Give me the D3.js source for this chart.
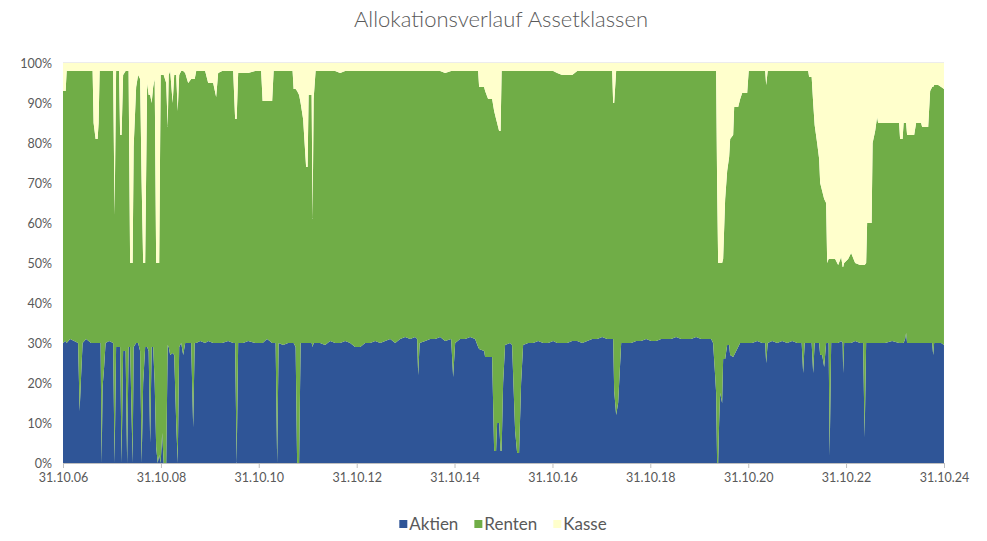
<!DOCTYPE html>
<html>
<head>
<meta charset="utf-8">
<script src="https://cdn.jsdelivr.net/npm/d3@7/dist/d3.min.js"></script>
<style>
  body { margin: 0; background: #fff; }
  svg text { font-family: Lato, "Open Sans", sans-serif; fill: #595959; }
</style>
</head>
<body>
<svg id="chart" width="987" height="541"></svg>
<script>
// dates as decimal years, shares in percent (Renten = rest up to 100)
const dates = [
  2006.830, 2006.884, 2006.905, 2006.976, 2007.058, 2007.139, 2007.170, 2007.201, 2007.231, 2007.303,
  2007.405, 2007.436, 2007.456, 2007.497, 2007.538, 2007.558, 2007.579, 2007.599, 2007.620, 2007.640,
  2007.671, 2007.701, 2007.773, 2007.855, 2007.885, 2007.916, 2007.977, 2007.998, 2008.028, 2008.059,
  2008.110, 2008.141, 2008.171, 2008.202, 2008.253, 2008.274, 2008.325, 2008.365, 2008.406, 2008.437,
  2008.468, 2008.509, 2008.549, 2008.580, 2008.611, 2008.641, 2008.672, 2008.703, 2008.733, 2008.764,
  2008.795, 2008.825, 2008.856, 2008.887, 2008.938, 2008.968, 2008.989, 2009.019, 2009.070, 2009.101,
  2009.142, 2009.173, 2009.203, 2009.244, 2009.285, 2009.326, 2009.387, 2009.448, 2009.489, 2009.520,
  2009.551, 2009.632, 2009.734, 2009.796, 2009.898, 2009.959, 2010.000, 2010.082, 2010.204, 2010.307,
  2010.347, 2010.378, 2010.409, 2010.511, 2010.613, 2010.756, 2010.879, 2010.909, 2011.001, 2011.104,
  2011.134, 2011.175, 2011.206, 2011.236, 2011.328, 2011.430, 2011.522, 2011.543, 2011.584, 2011.614,
  2011.655, 2011.686, 2011.737, 2011.798, 2011.829, 2011.849, 2011.911, 2011.931, 2011.952, 2011.992,
  2012.084, 2012.186, 2012.289, 2012.391, 2012.493, 2012.595, 2012.697, 2012.799, 2012.902, 2013.004,
  2013.106, 2013.208, 2013.310, 2013.412, 2013.515, 2013.617, 2013.719, 2013.821, 2013.923, 2014.025,
  2014.066, 2014.087, 2014.117, 2014.230, 2014.332, 2014.434, 2014.536, 2014.638, 2014.761, 2014.802,
  2014.843, 2014.945, 2015.047, 2015.149, 2015.251, 2015.313, 2015.333, 2015.435, 2015.456, 2015.517,
  2015.599, 2015.640, 2015.680, 2015.701, 2015.742, 2015.772, 2015.793, 2015.824, 2015.864, 2015.967,
  2016.007, 2016.069, 2016.110, 2016.150, 2016.191, 2016.232, 2016.334, 2016.437, 2016.539, 2016.641,
  2016.743, 2016.845, 2016.927, 2017.029, 2017.131, 2017.233, 2017.336, 2017.438, 2017.540, 2017.642,
  2017.744, 2017.846, 2017.949, 2018.051, 2018.071, 2018.092, 2018.132, 2018.173, 2018.235, 2018.337,
  2018.439, 2018.541, 2018.643, 2018.745, 2018.848, 2018.950, 2019.052, 2019.154, 2019.256, 2019.358,
  2019.461, 2019.563, 2019.665, 2019.767, 2019.869, 2019.971, 2020.074, 2020.114, 2020.155, 2020.176,
  2020.196, 2020.217, 2020.237, 2020.257, 2020.298, 2020.319, 2020.360, 2020.401, 2020.441, 2020.462,
  2020.523, 2020.544, 2020.625, 2020.666, 2020.707, 2020.809, 2020.840, 2020.911, 2021.014, 2021.116,
  2021.177, 2021.197, 2021.228, 2021.320, 2021.422, 2021.524, 2021.626, 2021.729, 2021.831, 2021.923,
  2021.953, 2021.984, 2022.056, 2022.076, 2022.127, 2022.158, 2022.188, 2022.239, 2022.280, 2022.301,
  2022.342, 2022.383, 2022.423, 2022.444, 2022.474, 2022.495, 2022.526, 2022.607, 2022.669, 2022.730,
  2022.761, 2022.771, 2022.791, 2022.873, 2022.934, 2023.016, 2023.118, 2023.179, 2023.210, 2023.241,
  2023.261, 2023.353, 2023.373, 2023.425, 2023.465, 2023.486, 2023.629, 2023.772, 2023.915, 2023.935,
  2023.986, 2024.007, 2024.038, 2024.058, 2024.078, 2024.222, 2024.262, 2024.365, 2024.385, 2024.508,
  2024.548, 2024.589, 2024.610, 2024.630, 2024.712, 2024.773, 2024.830
];

const aktien = [
  30, 30.5, 30, 31, 30.5, 30, 13, 22, 30, 31,
  30, 30, 30, 30, 30, 30, 30, 30, 0, 19,
  24, 30, 30.5, 30, 0, 29, 29, 29, 0, 28,
  28, 0, 29, 29, 0, 29, 30, 30, 28, 0,
  20, 29, 29, 28, 5, 29, 29, 20, 4, 0,
  2, 0, 7.5, 0, 0, 29.5, 29, 27, 27.5, 27,
  10, 0, 29, 30, 27, 30, 30, 30, 9, 30,
  30, 30.5, 30, 30.5, 30, 30, 30, 30, 30.5, 30,
  30, 0, 30, 30, 30.5, 30, 30, 30, 31, 30,
  30, 30, 0, 30, 29.5, 30, 30, 30, 29, 0,
  0, 30, 30, 30, 30, 30, 30, 29, 30, 30,
  30, 29.5, 30.5, 30, 30, 30.5, 30, 29, 29, 30,
  30, 30.5, 30, 30.5, 31, 30, 31, 31.5, 31, 31.5,
  31, 22, 30, 30.5, 31, 31, 31.5, 30.5, 31, 21.5,
  30, 31, 31, 31.5, 31, 29, 28.5, 28, 26.5, 26.5,
  26.5, 3, 3, 10, 10, 3, 3, 20, 29.5, 30,
  29.5, 8, 2.5, 2.5, 20, 29.5, 30, 30, 30.5, 30,
  30, 30.5, 30, 30, 30, 30.5, 30.5, 30, 30.5, 31,
  31, 31.5, 31, 31, 31, 18, 12, 15, 30, 30,
  30, 30.5, 30.5, 31, 30.5, 30.5, 31, 31, 31, 31.5,
  31, 31, 31, 31.5, 31, 31, 31, 30, 22, 17.5,
  0, 0, 10, 17.5, 15, 26, 26, 29.5, 29.5, 27,
  26.5, 27, 29, 30, 30, 30, 30, 30, 30.5, 30,
  30, 25, 30, 30.5, 30, 30.5, 30, 30.5, 30, 30,
  22.5, 30, 30, 30, 30, 22.5, 30, 30, 30, 27,
  27, 24, 30, 30, 30, 2, 30, 30, 30, 30.5,
  30, 22.5, 30, 30, 30, 30.5, 30, 30, 6.5, 30,
  30, 30, 30, 30, 30, 30, 30, 30.5, 30, 30,
  30, 30, 31, 32.5, 30, 30, 30, 30, 30, 30,
  30, 30, 27, 30, 30, 30, 29.5
];

const kasse = [
  7, 7, 2, 2, 2, 2, 2, 2, 2, 2,
  2, 2, 15, 19, 19, 15, 2, 2, 2, 2,
  2, 2, 2, 2, 38, 2, 2, 18, 18, 3,
  2, 2, 2, 50, 50, 21, 6, 3, 4, 30,
  50, 50, 5, 8, 8, 10, 6, 4, 50, 50,
  50, 3, 3, 3, 5, 16, 3, 2, 10, 3,
  3, 12, 3, 2, 2, 2.5, 5, 4, 4, 4,
  2, 2, 2, 5, 5, 8.5, 2.5, 2, 2, 2,
  14, 14, 2.5, 2.5, 2.5, 2, 2, 9.5, 9.5, 9.5,
  2, 2, 2, 2, 2, 2, 2, 6.5, 6.5, 7,
  8, 10, 14, 26, 26, 8, 8, 39, 9, 2,
  2, 2, 2, 2, 2.5, 2, 2, 2, 2, 2,
  2, 2, 2, 2, 2, 2, 2, 2, 2, 2,
  2, 2, 2, 2, 2, 2, 2, 2.5, 2, 2,
  2, 2, 2, 2, 2, 2, 6, 6, 7, 9,
  9, 12, 14, 15, 17, 17, 2, 2, 2, 2,
  2, 2, 2, 2, 2, 2, 2, 2, 2, 2,
  2, 2, 2.5, 3, 3, 3, 2, 2, 2, 2,
  2, 2, 2, 2, 10, 10, 2, 2, 2, 2,
  2, 2, 2, 2, 2, 2, 2, 2, 2, 2,
  2, 2, 2, 2, 2, 2, 2, 2, 2, 2,
  30, 50, 50, 50, 50, 49, 34, 27, 23.5, 19,
  18, 11, 11, 9, 7.5, 7.5, 2, 2, 2, 2,
  2, 5.5, 2, 2, 2, 2, 2, 2, 2, 2,
  2, 2, 2, 3.5, 3.5, 10, 15.5, 20, 24, 30,
  32, 34, 35, 50, 49, 49, 49, 49, 50.5, 48.5,
  51, 51, 50, 49, 47.5, 50, 50.5, 50.5, 50.5, 50,
  40, 40, 20, 17, 13.5, 15, 15, 15, 15, 19,
  19, 15, 15, 15, 18, 18, 15, 15, 16, 16,
  7, 6, 6, 5.5, 5.5, 6, 6.5
];

const keys = ["Aktien", "Renten", "Kasse"];
const colors = ["#2F5597", "#70AD47", "#FFFFCC"];
const yTicks = [0, 0.1, 0.2, 0.3, 0.4, 0.5, 0.6, 0.7, 0.8, 0.9, 1];
const xTickYears = [2006, 2008, 2010, 2012, 2014, 2016, 2018, 2020, 2022, 2024];

function toDate(v) {
  const yr = Math.floor(v);
  const a = new Date(yr, 0, 1), b = new Date(yr + 1, 0, 1);
  return new Date(+a + (v - yr) * (b - a));
}

const table = dates.map((d, i) => ({
  date: toDate(d),
  Aktien: aktien[i] / 100,
  Renten: (100 - aktien[i] - kasse[i]) / 100,
  Kasse: kasse[i] / 100
}));

const svg = d3.select("#chart");
const plot = { left: 63, right: 944, top: 63, bottom: 463 };

const x = d3.scaleTime()
  .domain([new Date(2006, 9, 31), new Date(2024, 9, 31)])
  .range([plot.left, plot.right]);
const y = d3.scaleLinear().domain([0, 1]).range([plot.bottom, plot.top]);
const color = d3.scaleOrdinal().domain(keys).range(colors);

// top gridline
svg.append("line")
  .attr("x1", plot.left).attr("x2", plot.right)
  .attr("y1", y(1)).attr("y2", y(1))
  .attr("stroke", "#d9d9d9");

const series = d3.stack().keys(keys)(table);
const area = d3.area()
  .x(d => x(d.data.date))
  .y0(d => y(d[0]))
  .y1(d => y(d[1]));

svg.append("g").selectAll("path")
  .data(series)
  .join("path")
  .attr("fill", d => color(d.key))
  .attr("d", area);

// y axis (labels only)
const yAxis = svg.append("g")
  .attr("transform", `translate(${plot.left},0)`)
  .call(d3.axisLeft(y).tickValues(yTicks).tickFormat(d3.format(".0%")).tickSize(0).tickPadding(11));
yAxis.select(".domain").remove();
yAxis.selectAll("text").attr("font-size", 12.5).attr("fill", "#595959");

// x axis
const xAxis = svg.append("g")
  .attr("transform", `translate(0,${plot.bottom})`)
  .call(d3.axisBottom(x)
    .tickValues(xTickYears.map(yr => new Date(yr, 9, 31)))
    .tickFormat(d3.timeFormat("%d.%m.%y"))
    .tickSizeInner(5).tickSizeOuter(0).tickPadding(5));
xAxis.select(".domain").attr("stroke", "#bfbfbf");
xAxis.selectAll(".tick line").attr("stroke", "#bfbfbf");
xAxis.selectAll("text").attr("font-size", 12.5).attr("fill", "#595959");

// title
svg.append("text")
  .attr("x", 501).attr("y", 27)
  .attr("text-anchor", "middle")
  .attr("font-size", 22)
  .attr("font-weight", 300)
  .text("Allokationsverlauf Assetklassen");

// legend
const legend = svg.append("g");
let lx = 0;
keys.forEach((k, i) => {
  const g = legend.append("g").attr("transform", `translate(${lx},0)`);
  g.append("rect").attr("x", 0).attr("y", -10).attr("width", 8).attr("height", 8).attr("fill", colors[i]);
  const t = g.append("text").attr("x", 10).attr("y", 0).attr("font-size", 17).text(k);
  lx += 10 + t.node().getComputedTextLength() + 16;
});
const legendWidth = lx - 16;
legend.attr("transform", `translate(${503 - legendWidth / 2},530)`);
</script>
</body>
</html>
